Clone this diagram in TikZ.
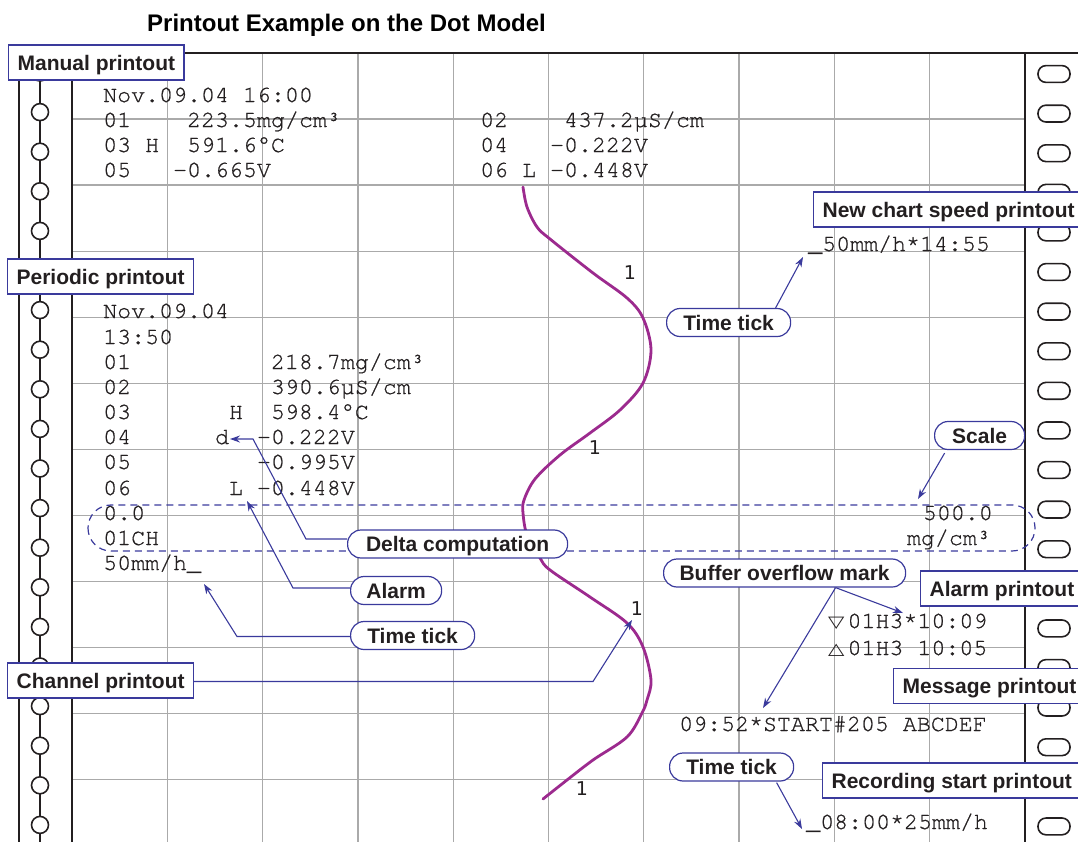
\documentclass[tikz,border=0pt]{standalone}
\usepackage{fontspec}
\setmainfont{Liberation Sans}
\newfontfamily\mono{texgyrecursor-regular}[Extension=.otf, WordSpace={1,0,0}, FakeBold=0.8]
\newfontfamily\dvs{DejaVu Sans}
\usetikzlibrary{arrows.meta}
\definecolor{gridc}{HTML}{AAAAAA}
\definecolor{ink}{HTML}{231F20}
\definecolor{lblue}{HTML}{3A3A9C}
\definecolor{curvec}{HTML}{9C2A8E}
\newcommand{\trisym}[1]{\raisebox{0.5pt}{\scalebox{1.25}[0.95]{\dvs\fontsize{17pt}{17pt}\selectfont #1}}}
\tikzset{
  gridline/.style={draw=gridc, line width=1.3pt},
  border/.style={draw=ink, line width=1.8pt},
  hole/.style={draw=ink, line width=1.6pt, fill=white},
  curve/.style={draw=curvec, line width=2.8pt, line cap=round},
  mtext/.style={font=\mono\fontsize{23.3pt}{25pt}\selectfont, text=ink, anchor=base west, inner sep=0pt},
  onelab/.style={font=\dvs\fontsize{19pt}{19pt}\selectfont, text=ink, inner sep=0pt},
  lab/.style={draw=lblue, line width=1.2pt, fill=white, text=ink,
    font=\bfseries\fontsize{21pt}{21pt}\selectfont, inner xsep=9pt, inner ysep=0pt,
    text height=15pt, text depth=0pt, minimum height=35pt, anchor=west},
  pill/.style={draw=lblue, line width=1.2pt, fill=white, text=ink, rounded corners=13.5pt,
    font=\bfseries\fontsize{21pt}{21pt}\selectfont, inner xsep=8pt, inner ysep=0pt,
    text height=15pt, text depth=0pt, minimum height=28pt, anchor=west},
  conn/.style={draw=lblue, line width=1.1pt, -{Stealth[length=10pt,width=7pt]}},
  dashbox/.style={draw=lblue, line width=1.2pt, dash pattern=on 7pt off 5pt, rounded corners=22.9pt}
}
\begin{document}
\begin{tikzpicture}[x=1pt,y=-1pt]
\useasboundingbox (0,0) rectangle (1078,841);
% grid
\foreach \k in {1,...,9} \draw[gridline] ({72+95.3*\k},53) -- ({72+95.3*\k},850);
\foreach \k in {1,...,12} \draw[gridline] (72,{53+66.05*\k}) -- (1025,{53+66.05*\k});
% borders
\draw[border] (19,53) -- (1078,53);
\draw[border] (19,53) -- (19,850);
\draw[border] (72,53) -- (72,850);
\draw[border] (1025,53) -- (1025,850);
% left holes
\draw[draw=ink, line width=1.4pt] (40,53) -- (40,850);
\foreach \k in {0,...,19} \draw[hole] (40,{72.5+39.6*\k}) circle (8.5);
% right holes
\foreach \k in {0,...,19} \draw[hole, rounded corners=8pt] (1038,{74+39.6*\k-8.4}) rectangle (1070,{74+39.6*\k+8.4});
% curve
\draw[curve] plot[smooth, tension=0.55] coordinates {(523,187) (527,207) (537,227) (550,239) (593,273) (627,298) (643,318) (651,350) (643,383) (620,410) (590,433) (560,455) (535,479) (524,500) (523,513) (527,535) (540,558) (550,570) (590,597) (627,623) (643,647) (651,680) (647,700) (642,713) (627,737) (593,760) (567,780) (543,799)};
\node[onelab] (one1) at (630,273) {1};
\node[onelab] (one2) at (595,448) {1};
\node[onelab] (one3) at (637,609) {1};
\node[onelab] (one4) at (582,789) {1};
% title
\node[font=\bfseries\fontsize{24pt}{24pt}\selectfont, text=black, anchor=base west, inner sep=0pt] (title) at (147,31.5) {Printout Example on the Dot Model};
% manual printout text
\node[mtext] (m1) at (103,102) {Nov.09.04~16:00};
\node[mtext] (m2) at (103,127) {01~~~~223.5mg/cm³};
\node[mtext] (m3) at (103,152) {03~H~~591.6°C};
\node[mtext] (m4) at (103,177) {05~~~–0.665V};
\node[mtext] (m5) at (480,127) {02~~~~437.2µS/cm};
\node[mtext] (m6) at (480,152) {04~~~–0.222V};
\node[mtext] (m7) at (480,177) {06~L~–0.448V};
% periodic printout text
\node[mtext] (p1) at (103,318) {Nov.09.04};
\node[mtext] (p2) at (103,344) {13:50};
\node[mtext] (p3) at (103,369) {01~~~~~~~~~~218.7mg/cm³};
\node[mtext] (p4) at (103,394) {02~~~~~~~~~~390.6µS/cm};
\node[mtext] (p5) at (103,419) {03~~~~~~~H~~598.4°C};
\node[mtext] (p6) at (103,444) {04~~~~~~d~~–0.222V};
\node[mtext] (p7) at (103,469) {05~~~~~~~~~–0.995V};
\node[mtext] (p8) at (103,495) {06~~~~~~~L~–0.448V};
\node[mtext] (s1) at (103,520) {0.0};
\node[mtext] (s2) at (103,545) {01CH};
\node[mtext] (s3) at (103,570) {50mm/h\_};
\node[mtext, anchor=base east] (s4) at (993,520) {500.0};
\node[mtext, anchor=base east] (s5) at (991,545) {mg/cm³};
% right side texts
\node[mtext] (r1) at (808,251) {\_50mm/h*14:55};
\node[mtext] (r2) at (828,628) {\trisym{▽}\kern3pt 01H3*10:09};
\node[mtext] (r3) at (828,655) {\trisym{△}\kern3pt 01H3~10:05};
\node[mtext] (r4) at (679,731) {09:52*START\#205~ABCDEF};
\node[mtext] (r5) at (806,829) {\_08:00*25mm/h};
% dashed scale frame
\draw[dashbox] (88,505) rectangle (1035,551);
% label boxes
\node[lab] (mp) at (8,62.5) {Manual printout};
\node[lab] (pp) at (7,276.5) {Periodic printout};
\node[lab] (ch) at (7,680.5) {Channel printout};
\node[lab] (nc) at (813,209.5) {New chart speed printout};
\node[lab] (ap) at (920,588.5) {Alarm printout};
\node[lab] (mg) at (893,686) {Message printout};
\node[lab] (rs) at (822,780.5) {Recording start printout};
% pill labels
\node[pill, minimum width=124pt] (ttA) at (666,322.5) {Time tick};
\node[pill, minimum width=90pt] (sc) at (934,435.5) {Scale};
\node[pill, minimum width=220pt] (dc) at (347,544) {Delta computation};
\node[pill, minimum width=91pt] (al) at (350,590.5) {Alarm};
\node[pill, minimum width=124pt] (tl) at (350,635.5) {Time tick};
\node[pill, minimum width=242pt] (bo) at (663,573) {Buffer overflow mark};
\node[pill, minimum width=124pt] (tb) at (669,767) {Time tick};
% connector points
\coordinate (dA) at (306,539); \coordinate (dB) at (253,439); \coordinate (dT) at (230,439);
\coordinate (aA) at (293,588); \coordinate (aT) at (247,501);
\coordinate (tA) at (237,636.5); \coordinate (tT) at (204,584);
\coordinate (cA) at (593,681.5); \coordinate (cT) at (632,620);
\coordinate (ttT) at (803,257);
\coordinate (scT) at (918,499);
\coordinate (boT1) at (903,613); \coordinate (boT2) at (763,708);
\coordinate (tbT) at (802,829);
% connectors
\draw[conn] ([yshift=5pt]dc.west) -- (dA) -- (dB) -- (dT);
\draw[conn] ([yshift=2.5pt]al.west) -- (aA) -- (aT);
\draw[conn] ([yshift=-1pt]tl.west) -- (tA) -- (tT);
\draw[conn] ([yshift=-1pt]ch.east) -- (cA) -- (cT);
\draw[conn] ([xshift=47pt]ttA.north) -- (ttT);
\draw[conn] ([xshift=-35pt,yshift=-3pt]sc.south) -- (scT);
\draw[conn] ([xshift=51pt]bo.south) -- (boT1);
\draw[conn] ([xshift=51pt]bo.south) -- (boT2);
\draw[conn] ([xshift=45pt,yshift=-1pt]tb.south) -- (tbT);
\end{tikzpicture}
\end{document}
